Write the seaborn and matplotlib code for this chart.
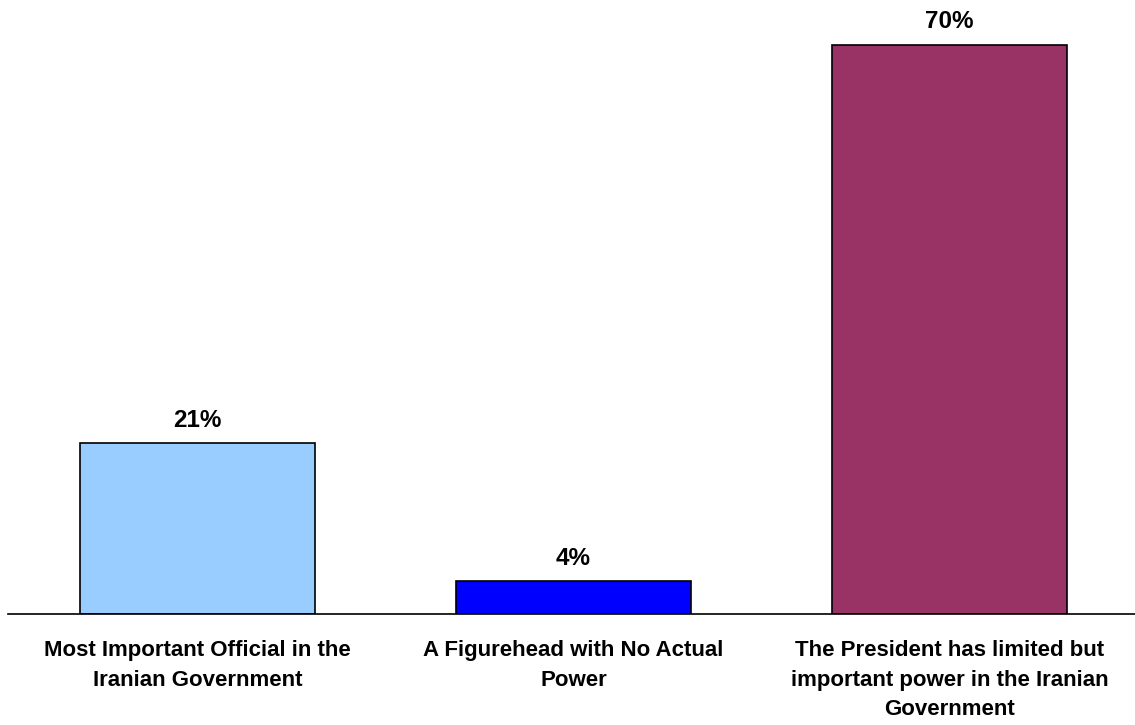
import matplotlib
matplotlib.use("Agg")
import matplotlib.pyplot as plt
import seaborn as sns
import pandas as pd

# datos
categorias = [
    "Most Important Official in the\nIranian Government",
    "A Figurehead with No Actual\nPower",
    "The President has limited but\nimportant power in the Iranian\nGovernment",
]
valores = [21, 4, 70]
colores = ["#99CCFF", "#0000FF", "#993366"]

sns.set_style("white")
plt.rcParams['font.family'] = ['Liberation Sans', 'DejaVu Sans']
plt.rcParams['text.color'] = 'black'
plt.rcParams['xtick.color'] = 'black'

df = pd.DataFrame({"cat": categorias, "val": valores})

fig = plt.figure(figsize=(11.35, 7.25), dpi=100)
ax = fig.add_axes([8/1135, 111/725, 1127/1135, 614/725])

sns.barplot(data=df, x="cat", y="val", hue="cat", palette=colores,
            order=categorias, hue_order=categorias, legend=False,
            width=0.625, edgecolor="black", linewidth=1.2, saturation=1, ax=ax)

# etiquetas de porcentaje sobre cada barra
for i, v in enumerate(valores):
    ax.annotate(f"{v}%", xy=(i, v), xytext=(0, 12), textcoords="offset points",
                ha="center", va="baseline", fontsize=17.5, fontweight="bold")

ax.set_xlim(-0.504, 2.493)
ax.set_ylim(0, 70 * 614 / 569)
ax.set_xlabel("")
ax.set_ylabel("")
ax.set_yticks([])
for s in ["top", "right", "left"]:
    ax.spines[s].set_visible(False)
ax.spines["bottom"].set_color("black")
ax.spines["bottom"].set_linewidth(1.2)
ax.tick_params(axis="x", length=0, pad=19)
for lbl in ax.get_xticklabels():
    lbl.set_fontsize(16)
    lbl.set_fontweight("bold")
    lbl.set_linespacing(1.52)
    lbl.set_va("top")
    lbl.set_color("black")

fig.savefig("out.png", dpi=100)
